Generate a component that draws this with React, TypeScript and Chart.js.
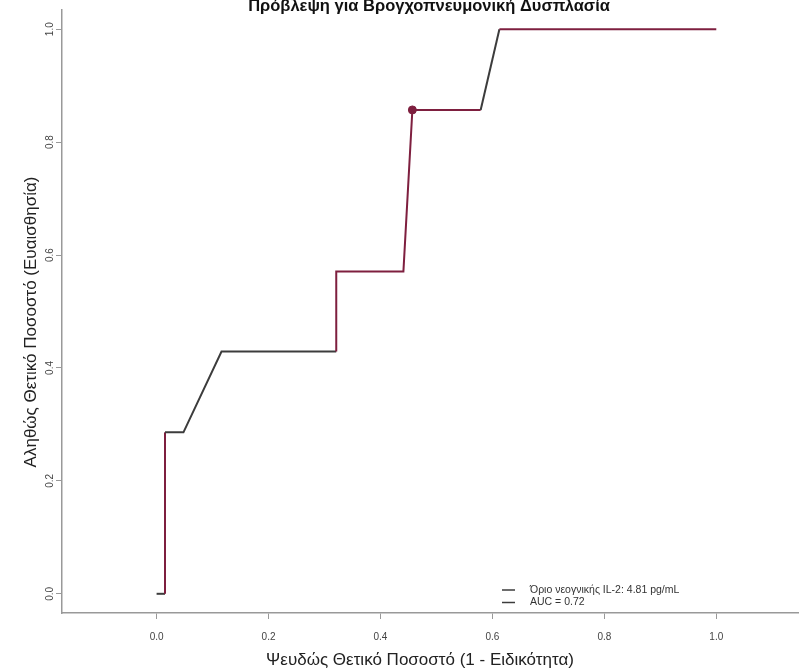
import React, { useEffect, useRef } from "react";
import { Chart, registerables } from "chart.js";

Chart.register(...registerables);

const chartTitle = "Πρόβλεψη για Βρογχοπνευμονική Δυσπλασία";
const xTitle = "Ψευδώς Θετικό Ποσοστό (1 - Ειδικότητα)";
const yTitle = "Αληθώς Θετικό Ποσοστό (Ευαισθησία)";
const legendLabels = ["Όριο νεογνικής IL-2: 4.81 pg/mL", "AUC = 0.72"];

const fpr = [0, 0.015, 0.015, 0.048, 0.116, 0.321, 0.321, 0.441, 0.457, 0.579, 0.6125, 1.0];
const tpr = [0, 0, 0.286, 0.286, 0.429, 0.429, 0.571, 0.571, 0.857, 0.857, 1.0, 1.0];
const thresholdFpr = [0.457];
const thresholdTpr = [0.857];
const tickValues = [0, 0.2, 0.4, 0.6, 0.8, 1.0];

const RED = "#7e1f3f";
const DARK = "#3c3c3c";
const segmentColors = [DARK, RED, DARK, DARK, DARK, RED, RED, RED, RED, DARK, RED];

const FONT = "'Liberation Sans', Arial, sans-serif";

const textPlugin = {
  id: "textPlugin",
  afterDraw(chart: any) {
    const ctx = chart.ctx;
    const y = chart.scales.y;
    ctx.save();
    ctx.fillStyle = "#111";
    ctx.textAlign = "center";
    ctx.textBaseline = "middle";
    ctx.font = `bold 16.5px ${FONT}`;
    ctx.fillText(chartTitle, 429, 6);

    ctx.font = `17px ${FONT}`;
    ctx.fillStyle = "#222";
    ctx.fillText(xTitle, 420, 660);

    ctx.save();
    ctx.translate(31, 322);
    ctx.rotate(-Math.PI / 2);
    ctx.fillText(yTitle, 0, 0);
    ctx.restore();

    ctx.font = `10px ${FONT}`;
    ctx.fillStyle = "#444";
    tickValues.forEach((v) => {
      ctx.save();
      ctx.translate(50, y.getPixelForValue(v));
      ctx.rotate(-Math.PI / 2);
      ctx.fillText(v.toFixed(1), 0, 0);
      ctx.restore();
    });

    // legend
    ctx.textAlign = "left";
    ctx.font = `10.5px ${FONT}`;
    ctx.fillStyle = "#333";
    legendLabels.forEach((lab, i) => {
      const ly = 590 + i * 12.5;
      ctx.strokeStyle = DARK;
      ctx.lineWidth = 1.5;
      ctx.beginPath();
      ctx.moveTo(502, ly);
      ctx.lineTo(515, ly);
      ctx.stroke();
      ctx.fillText(lab, 530, ly);
    });
    ctx.restore();
  },
};

export default function App() {
  const ref = useRef<HTMLCanvasElement>(null);
  useEffect(() => {
    if (!ref.current) return;
    const chart = new Chart(ref.current, {
      type: "scatter",
      data: {
        datasets: [
          {
            type: "line",
            data: fpr.map((x, i) => ({ x, y: tpr[i] })),
            borderColor: RED,
            borderWidth: 2,
            pointRadius: 0,
            tension: 0,
            fill: false,
            segment: {
              borderColor: (c: any) => segmentColors[c.p0DataIndex],
            },
          } as any,
          {
            data: thresholdFpr.map((x, i) => ({ x, y: thresholdTpr[i] })),
            backgroundColor: RED,
            borderColor: RED,
            pointRadius: 4,
          },
        ],
      },
      options: {
        animation: false,
        responsive: true,
        maintainAspectRatio: false,
        layout: { padding: { top: 10, right: 3, left: 0, bottom: 0 } },
        plugins: { legend: { display: false }, tooltip: { enabled: false }, title: { display: false } },
        scales: {
          x: {
            type: "linear",
            min: -0.169,
            max: 1.146,
            afterBuildTicks: (s: any) => {
              s.ticks = tickValues.map((v) => ({ value: v }));
            },
            afterFit: (s: any) => {
              s.height = 58;
            },
            grid: { drawOnChartArea: false, drawTicks: true, tickLength: 6, color: "#999" },
            border: { display: true, color: "#999", width: 1.5 },
            ticks: {
              padding: 12,
              color: "#444",
              font: { size: 10, family: FONT },
              callback: (v: any) => Number(v).toFixed(1),
            },
          },
          y: {
            type: "linear",
            min: -0.034,
            max: 1.034,
            afterBuildTicks: (s: any) => {
              s.ticks = tickValues.map((v) => ({ value: v }));
            },
            afterFit: (s: any) => {
              s.width = 62;
            },
            grid: { drawOnChartArea: false, drawTicks: true, tickLength: 6, color: "#999" },
            border: { display: true, color: "#999", width: 1.5 },
            ticks: { display: false },
          },
        },
      },
      plugins: [textPlugin],
    });
    return () => chart.destroy();
  }, []);
  return (
    <div style={{ position: "fixed", left: 0, top: 0, width: 803, height: 671, background: "#fff" }}>
      <canvas ref={ref} />
    </div>
  );
}
